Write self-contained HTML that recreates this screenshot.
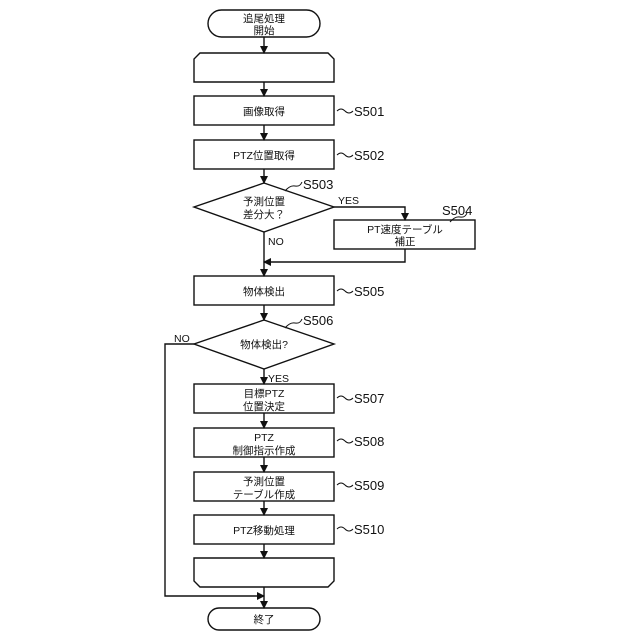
<!DOCTYPE html>
<html><head><meta charset="utf-8"><style>
html,body{margin:0;padding:0;background:#fff;width:640px;height:640px;overflow:hidden}
svg text{font-family:"Liberation Sans","Noto Sans CJK JP",sans-serif;fill:#111}
</style></head><body>
<svg width="640" height="640" viewBox="0 0 640 640" xmlns="http://www.w3.org/2000/svg">
<defs><marker id="a" markerWidth="8" markerHeight="8" refX="7" refY="4" orient="auto" markerUnits="userSpaceOnUse"><path d="M0,0 L8,4 L0,8 z" fill="#111"/></marker></defs>
<g fill="none" stroke="#111" stroke-width="1.4">
<rect x="208" y="10" width="112" height="27" rx="13.5"/>
<path d="M200,53 H328 L334,59 V82 H194 V59 Z"/>
<rect x="194" y="96" width="140" height="29"/>
<rect x="194" y="140" width="140" height="29"/>
<path d="M264,183 L334,207 L264,232 L194,207 Z"/>
<rect x="334" y="220" width="141" height="29"/>
<rect x="194" y="276" width="140" height="29"/>
<path d="M264,320 L334,344 L264,369 L194,344 Z"/>
<rect x="194" y="384" width="140" height="29"/>
<rect x="194" y="428" width="140" height="29"/>
<rect x="194" y="472" width="140" height="29"/>
<rect x="194" y="515" width="140" height="29"/>
<path d="M194,558 H334 V581 L328,587 H200 L194,581 Z"/>
<rect x="208" y="608" width="112" height="22" rx="11"/>
</g>
<g stroke="#111" stroke-width="1.4" fill="none" marker-end="url(#a)">
<line x1="264" y1="37" x2="264" y2="53"/>
<line x1="264" y1="82" x2="264" y2="96"/>
<line x1="264" y1="125" x2="264" y2="140"/>
<line x1="264" y1="169" x2="264" y2="183"/>
<polyline points="334,207 405,207 405,220"/>
<line x1="264" y1="232" x2="264" y2="276"/>
<polyline points="405,249 405,262 264,262"/>
<line x1="264" y1="305" x2="264" y2="320"/>
<line x1="264" y1="369" x2="264" y2="384"/>
<line x1="264" y1="413" x2="264" y2="428"/>
<line x1="264" y1="457" x2="264" y2="472"/>
<line x1="264" y1="501" x2="264" y2="515"/>
<line x1="264" y1="544" x2="264" y2="558"/>
<line x1="264" y1="587" x2="264" y2="608"/>
<polyline points="194,344 165,344 165,596 264,596"/>
</g>
<g stroke="#111" stroke-width="1" fill="none">
<path d="M337,111 q4,-4 8,0 t8,0"/>
<path d="M337,155 q4,-4 8,0 t8,0"/>
<path d="M337,291 q4,-4 8,0 t8,0"/>
<path d="M337,398 q4,-4 8,0 t8,0"/>
<path d="M337,441 q4,-4 8,0 t8,0"/>
<path d="M337,485 q4,-4 8,0 t8,0"/>
<path d="M337,529 q4,-4 8,0 t8,0"/>
<path d="M285,191 q5,-6 10,-5 t7,-4"/>
<path d="M285,328 q5,-6 10,-5 t7,-4"/>
<path d="M450,222 q5,-6 10,-5 t7,-4"/>
</g>
<g font-size="10.5" text-anchor="middle">
<text x="264" y="22">追尾処理</text><text x="264" y="34">開始</text>
<text x="264" y="115">画像取得</text>
<text x="264" y="159">PTZ位置取得</text>
<text x="264" y="205">予測位置</text><text x="264" y="218">差分大？</text>
<text x="405" y="233">PT速度テーブル</text><text x="405" y="245">補正</text>
<text x="264" y="295">物体検出</text>
<text x="264" y="348">物体検出?</text>
<text x="264" y="397">目標PTZ</text><text x="264" y="410">位置決定</text>
<text x="264" y="441">PTZ</text><text x="264" y="454">制御指示作成</text>
<text x="264" y="485">予測位置</text><text x="264" y="498">テーブル作成</text>
<text x="264" y="534">PTZ移動処理</text>
<text x="264" y="623">終了</text>
</g>
<g font-size="10.5">
<text x="338" y="204">YES</text>
<text x="268" y="245">NO</text>
<text x="174" y="342">NO</text>
<text x="268" y="382">YES</text>
</g>
<g font-size="13">
<text x="354" y="116">S501</text>
<text x="354" y="160">S502</text>
<text x="303" y="189">S503</text>
<text x="442" y="215">S504</text>
<text x="354" y="296">S505</text>
<text x="303" y="325">S506</text>
<text x="354" y="403">S507</text>
<text x="354" y="446">S508</text>
<text x="354" y="490">S509</text>
<text x="354" y="534">S510</text>
</g>
</svg>
</body></html>
